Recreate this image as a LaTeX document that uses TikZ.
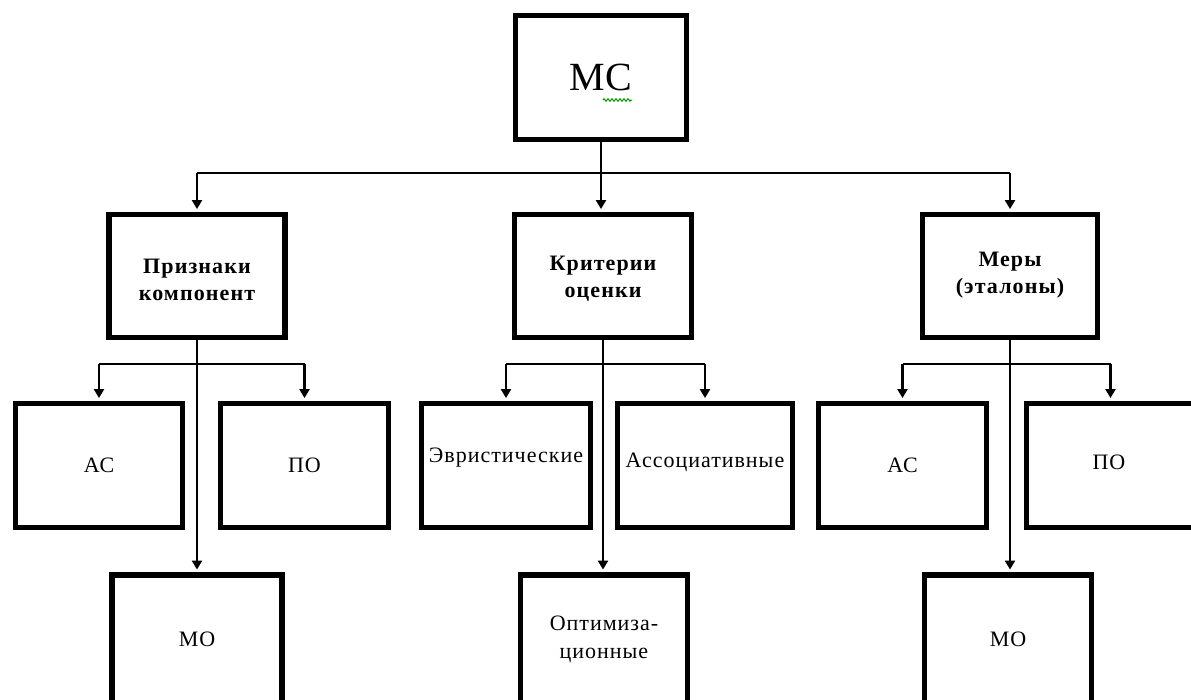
\documentclass[tikz,border=0pt]{standalone}
\usepackage{fontspec}
\setmainfont{Liberation Serif}
\newfontfamily\lsp[LetterSpace=4.5]{Liberation Serif}
\newfontfamily\bsp[LetterSpace=5]{Liberation Serif}
\usetikzlibrary{arrows.meta,decorations.pathmorphing}
\begin{document}
\begin{tikzpicture}[x=1pt,y=-1pt,
  box/.style={draw, line width=5.5pt, rectangle, align=center, inner sep=0pt, minimum height=124pt},
  lbl/.style={font=\lsp\fontsize{22}{28}\selectfont, align=center},
  blbl/.style={font=\bsp\bfseries\fontsize{22}{27}\selectfont, align=center},
  conn/.style={line width=2.8pt},
  arr/.style={conn, -{Triangle[length=9pt,width=10pt]}, shorten >=2.7pt},
]
\clip (0,0) rectangle (1191,699);
\useasboundingbox (0,0) rectangle (1191,699);
\fill[white] (0,0) rectangle (1191,699);

% top
\node[box, minimum width=171pt] (mc) at (601,77.5) {\fontsize{40}{44}\selectfont МС};
\coordinate (sq1) at (603,100);
\coordinate (sq2) at (632,100);
\draw[green!60!black, line width=1pt, decorate, decoration={zigzag, segment length=4pt, amplitude=1.3pt}]
  (sq1) -- (sq2);

% level 2
\node[box, minimum width=176pt, minimum height=123pt] (pk) at (197,276) {};
\node[blbl] (pkt) at (197,280) {Признаки\\компонент};
\node[box, minimum width=177pt, minimum height=123pt] (ko) at (603,276) {};
\node[blbl] (kot) at (603,279) {Критерии\\оценки};
\node[box, minimum width=175pt, minimum height=123pt] (me) at (1010,276) {};
\node[blbl] (met) at (1010,275) {Меры\\(эталоны)};

% level 3
\node[box, lbl, minimum width=167pt] (ac1) at (99,465.5) {АС};
\node[box, lbl, minimum width=168pt] (po1) at (304.5,465.5) {ПО};
\node[box, minimum width=169pt] (ev) at (506,465.5) {};
\node[lbl] (evt) at (506,458) {Эвристические};
\node[box, minimum width=175pt] (as) at (705,465.5) {};
\node[lbl] (ast) at (705,462) {Ассоциативные};
\node[box, lbl, minimum width=168pt] (ac2) at (902.5,465.5) {АС};
\node[box, minimum width=168pt] (po2) at (1110.5,465.5) {};
\node[lbl] (po2t) at (1109,462) {ПО};

% level 4
\node[box, lbl, minimum width=170pt, minimum height=128pt] (mo1) at (197,639) {МО};
\node[box, lbl, minimum width=167pt, minimum height=128pt] (op) at (604,639) {Оптимиза-\\ционные};
\node[box, lbl, minimum width=167pt, minimum height=128pt] (mo2) at (1008,639) {МО};

% connectors from top
\coordinate (bar) at (0,173);
\draw[conn] (pk.north |- bar) -- (me.north |- bar);
\draw[arr] (mc.south) -- (mc.south |- ko.north);
\draw[arr] (pk.north |- bar) -- (pk.north);
\draw[arr] (me.north |- bar) -- (me.north);

% branches
\coordinate (bar2) at (0,364);
\draw[conn] (ac1.north |- bar2) -- (po1.north |- bar2);
\draw[arr] (ac1.north |- bar2) -- (ac1.north);
\draw[arr] (po1.north |- bar2) -- (po1.north);
\draw[arr] (pk.south) -- (pk.south |- mo1.north);

\draw[conn] (ev.north |- bar2) -- (as.north |- bar2);
\draw[arr] (ev.north |- bar2) -- (ev.north);
\draw[arr] (as.north |- bar2) -- (as.north);
\draw[arr] (ko.south) -- (ko.south |- op.north);

\draw[conn] (ac2.north |- bar2) -- (po2.north |- bar2);
\draw[arr] (ac2.north |- bar2) -- (ac2.north);
\draw[arr] (po2.north |- bar2) -- (po2.north);
\draw[arr] (me.south) -- (me.south |- mo2.north);
\end{tikzpicture}
\end{document}
